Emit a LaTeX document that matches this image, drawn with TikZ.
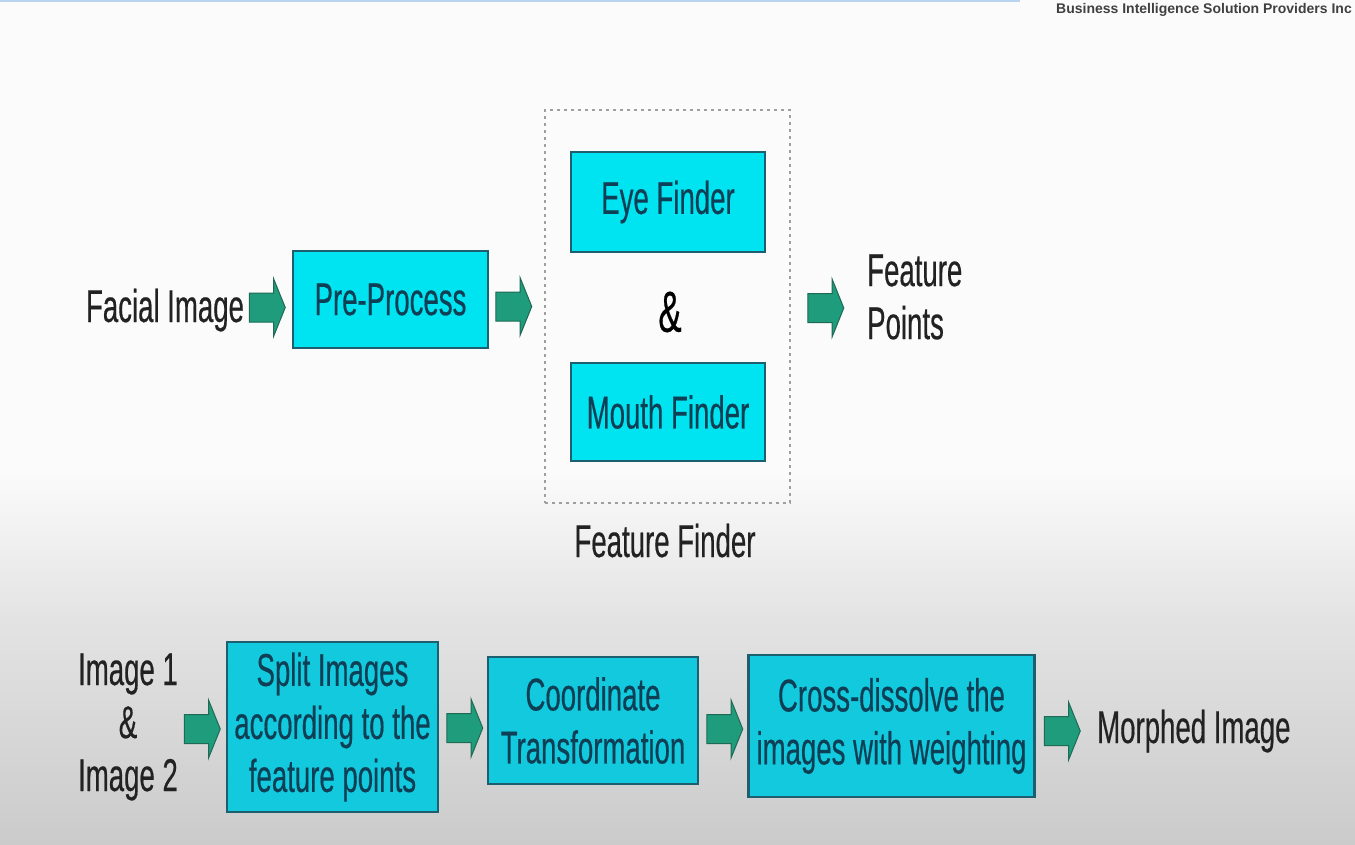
\documentclass[tikz,border=0pt]{standalone}
\usepackage{fontspec}
\setmainfont{Liberation Sans}[FakeStretch=0.6,FakeBold=0.35]
\newfontfamily\hdrfont{Liberation Sans}
\usetikzlibrary{shapes.arrows,calc}
\definecolor{boxtop}{HTML}{00E3F1}
\definecolor{boxbot}{HTML}{12C9DE}
\definecolor{boxline}{HTML}{1D5F6E}
\definecolor{boxtext}{HTML}{0E3F55}
\definecolor{arrfill}{HTML}{1E9C7C}
\definecolor{arrline}{HTML}{1F6A55}
\definecolor{labtext}{HTML}{222222}
\definecolor{bgmid}{HTML}{E3E3E3}
\definecolor{bgbot}{HTML}{CBCBCB}
\definecolor{hdrline}{HTML}{B8D4EE}
\begin{document}
\begin{tikzpicture}[x=1pt,y=-1pt,
  bigfont/.style={font=\fontsize{46}{53}\selectfont},
  procbox/.style={draw=boxline, line width=2.5pt, inner sep=0pt, align=center,
    text=boxtext, bigfont},
  topbox/.style={procbox, fill=boxtop},
  botbox/.style={procbox, fill=boxbot},
  lab/.style={text=labtext, inner sep=0pt, bigfont},
  barrow/.style={shape=single arrow, draw=arrline, fill=arrfill, line width=1pt,
    inner sep=0pt, text width=0pt, text height=28pt, text depth=0pt,
    minimum height=36pt, single arrow head extend=14.5pt, single arrow tip angle=136},
  dotbox/.style={draw=gray!75, line width=2.6pt, dash pattern=on 2.6pt off 4.4pt}
]
\useasboundingbox (0,0) rectangle (1355,844);
% background
\fill[white!97!gray] (0,0) rectangle (1355,470);
\shade[top color=white!97!gray, bottom color=bgmid] (0,469.5) rectangle (1355,620);
\shade[top color=bgmid, bottom color=bgbot] (0,619.5) rectangle (1355,844);
\draw[hdrline, line width=2pt] (0,1) -- (1020,1);
\node[anchor=base east, inner sep=0pt, text=black!75, font=\hdrfont\bfseries\fontsize{14}{16}\selectfont]
  (hdr) at (1352,13) {Business Intelligence Solution Providers Inc};

% top row
\node[lab, anchor=base] (facial) at (165,322) {Facial Image};
\node[topbox, minimum width=195pt, minimum height=97pt] (pre) at (390.5,299.5) {Pre-Process};
\node[dotbox, minimum width=245pt, minimum height=393pt] (ff) at (667.5,306.5) {};
\node[topbox, minimum width=194pt, minimum height=100pt] (eye) at (668,202) {Eye Finder};
\node[topbox, minimum width=194pt, minimum height=98pt] (mouth) at (668,412) {Mouth Finder};
\node[text=black, inner sep=0pt, font=\fontsize{58}{60}\selectfont] (amp) at (670,312) {\&};
\node[lab, anchor=base] (fflab) at (665,557) {Feature Finder};
\node[lab, anchor=west, align=left] (fp) at (867,297) {Feature\\Points};

\node[barrow, anchor=tail] (a1) at ($(pre.west)+(-43,8)$) {};
\node[barrow, anchor=tail] (a2) at ($(pre.east)+(6,7)$) {};
\node[barrow, anchor=tail] (a3) at ($(ff.east)+(16,1.5)$) {};

% bottom row
\node[lab, align=center] (imgs) at (128,727) {Image 1\\\&\\Image 2};
\node[botbox, minimum width=211pt, minimum height=170pt] (split) at (332.5,727)
  {Split Images\\according to the\\feature points};
\node[botbox, minimum width=210pt, minimum height=127pt] (coord) at (593,720.5)
  {Coordinate\\Transformation};
\node[botbox, minimum width=286pt, minimum height=142pt] (cross) at (891.5,726)
  {Cross-dissolve the\\images with weighting};
\node[lab, anchor=base west] (morph) at (1097,743) {Morphed Image};

\node[barrow, anchor=tail] (b1) at ($(split.west)+(-42,2)$) {};
\node[barrow, anchor=tail] (b2) at ($(split.east)+(7,1)$) {};
\node[barrow, anchor=tail] (b3) at ($(coord.east)+(7,8.5)$) {};
\node[barrow, anchor=tail] (b4) at ($(cross.east)+(8,5)$) {};
\end{tikzpicture}
\end{document}
